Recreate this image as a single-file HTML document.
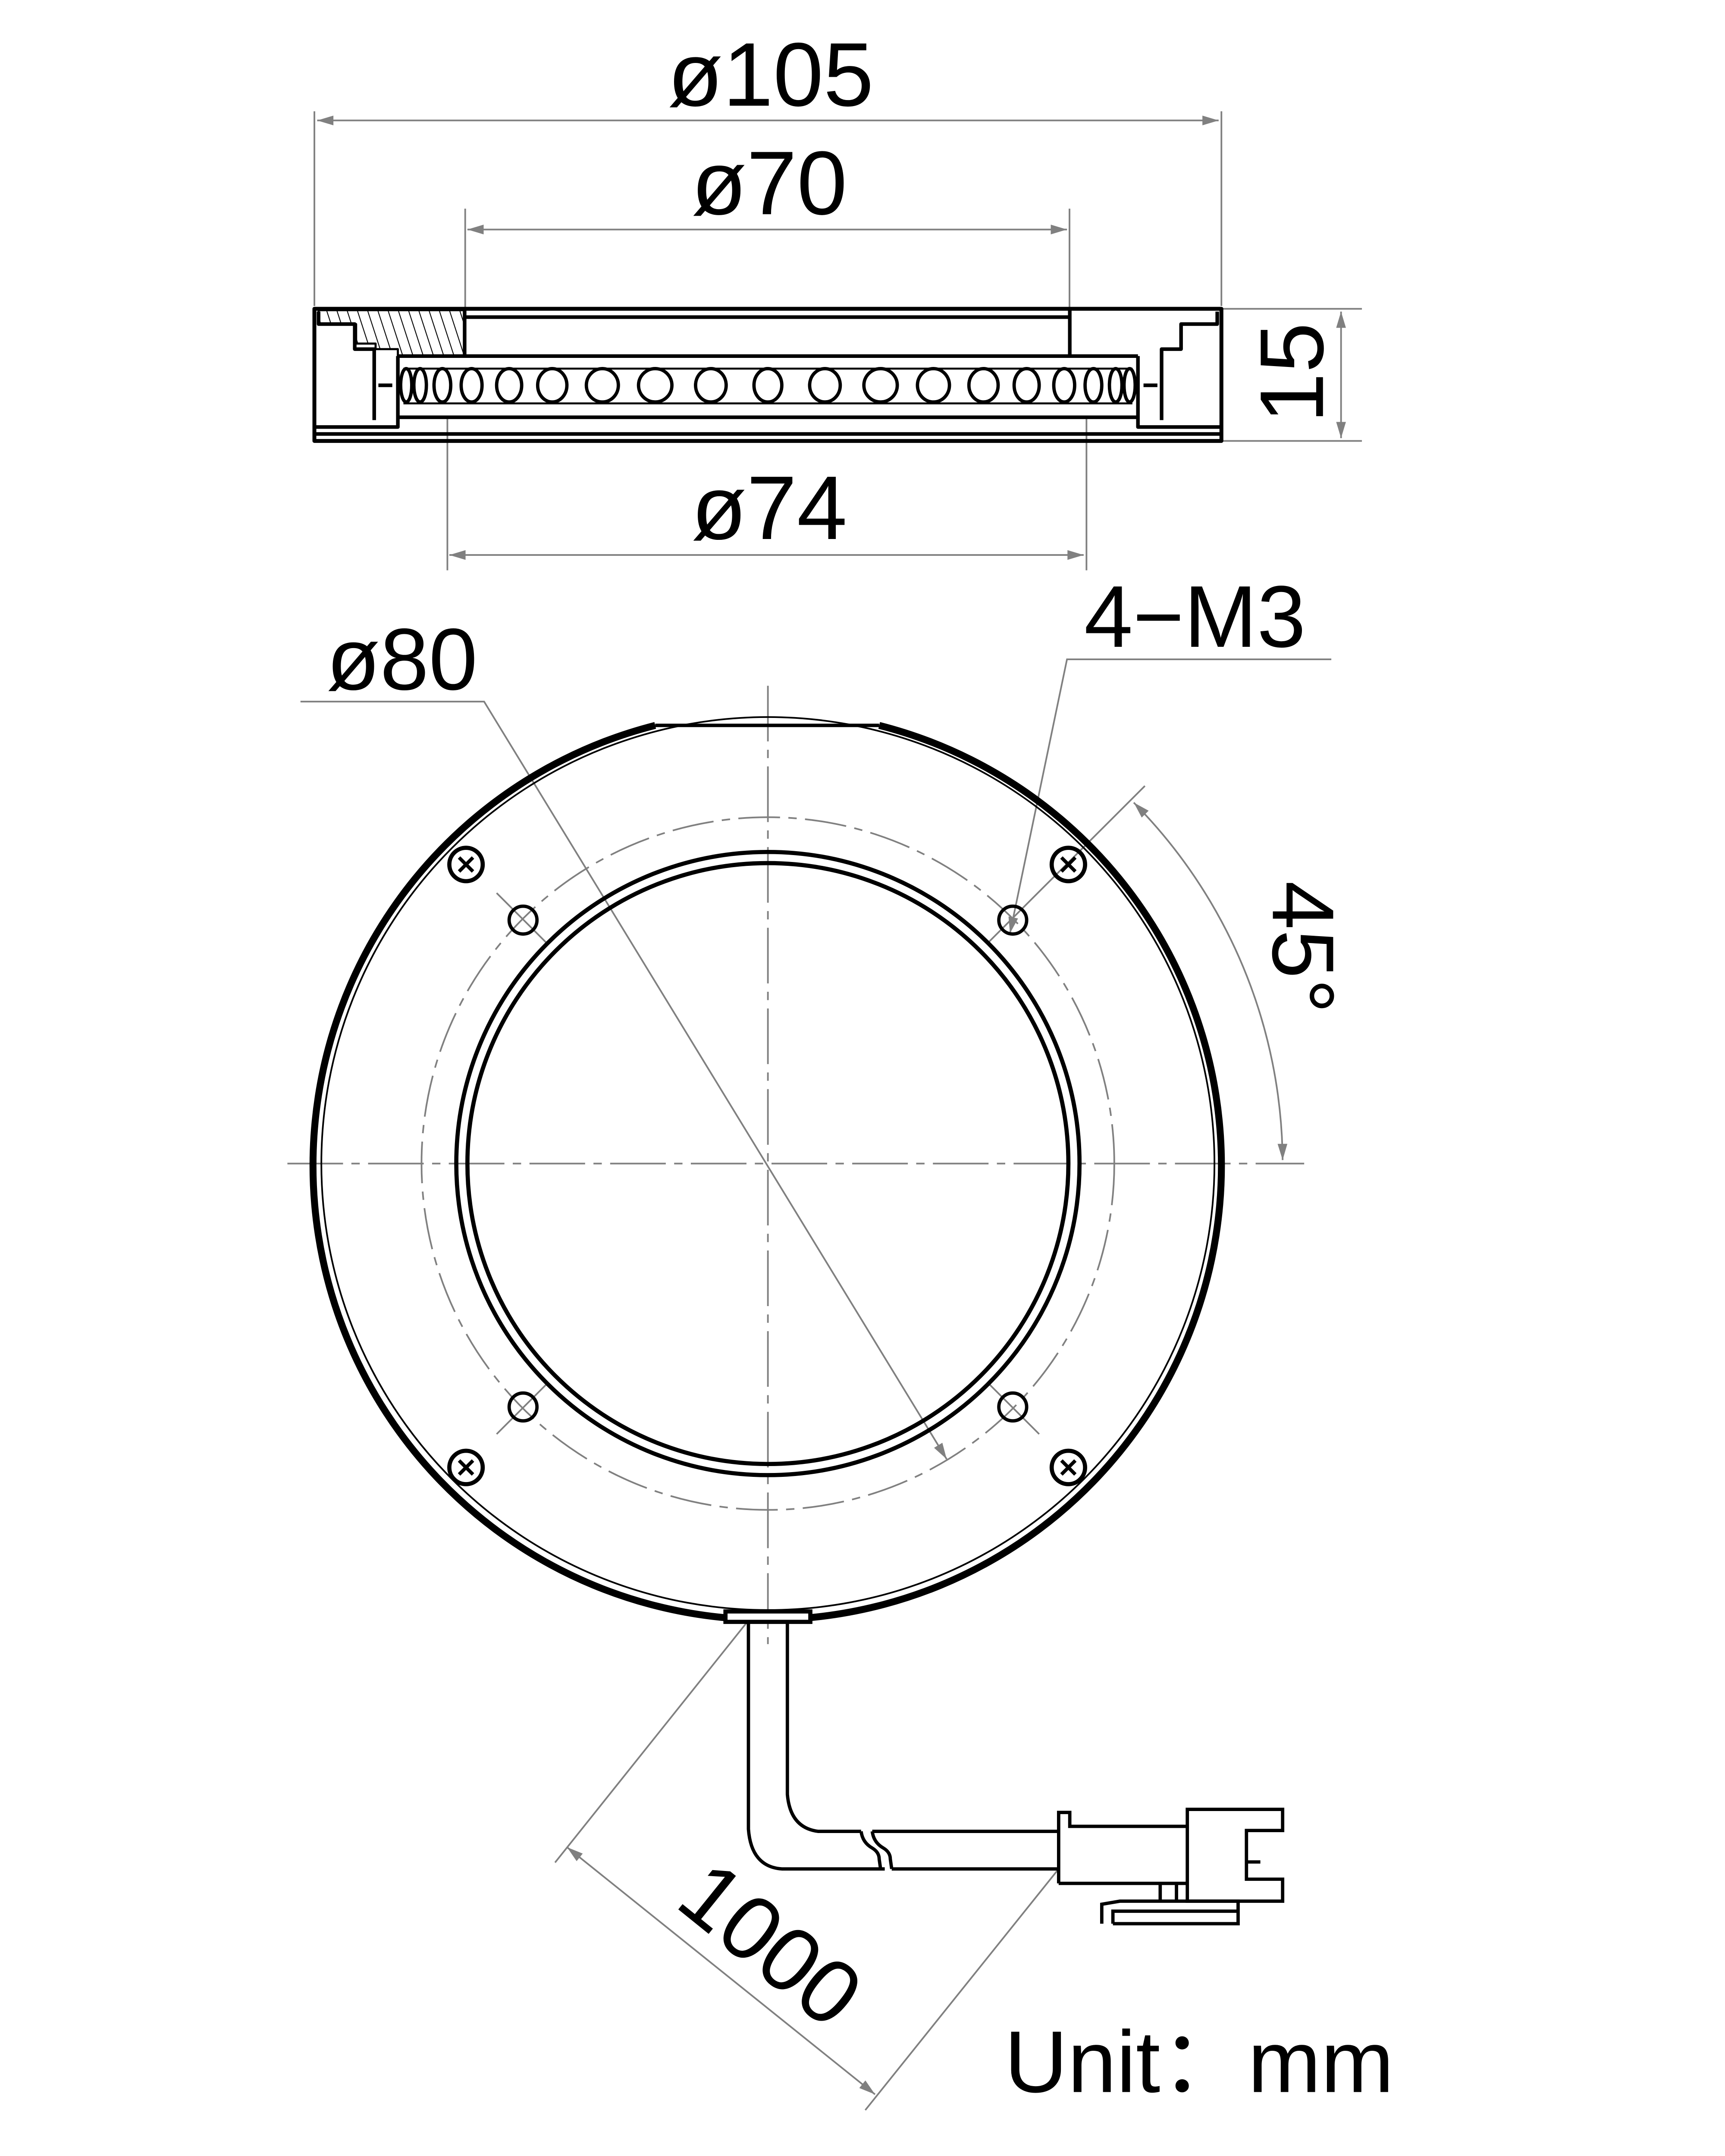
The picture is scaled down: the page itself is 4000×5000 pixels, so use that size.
<!DOCTYPE html>
<html><head><meta charset="utf-8"><style>
html,body{margin:0;padding:0;background:#fff;overflow:hidden}
svg{display:block}
text{font-family:"Liberation Sans","Noto Sans CJK SC",sans-serif;fill:#000}
</style></head><body>
<svg width="4000" height="5000" viewBox="0 0 1240 1550" xmlns="http://www.w3.org/2000/svg">
<defs>
<marker id="a" viewBox="0 0 10 6" refX="10" refY="3" markerWidth="13" markerHeight="7" markerUnits="userSpaceOnUse" orient="auto-start-reverse">
<path d="M0,0 L10,3 L0,6 Z" fill="#808080"/>
</marker>
<pattern id="h" width="7" height="7" patternUnits="userSpaceOnUse" patternTransform="rotate(-18)">
<line x1="0" y1="0" x2="0" y2="7" stroke="#000" stroke-width="1.3"/>
</pattern>
</defs>
<g stroke="#808080" stroke-width="1.2" fill="none">
<!-- dims side view -->
<line x1="226" y1="80" x2="226" y2="220"/><line x1="878" y1="80" x2="878" y2="220"/>
<line x1="228" y1="86.6" x2="876" y2="86.6" marker-start="url(#a)" marker-end="url(#a)"/>
<line x1="334.4" y1="150" x2="334.4" y2="228"/><line x1="768.8" y1="150" x2="768.8" y2="256"/>
<line x1="336" y1="165" x2="767" y2="165" marker-start="url(#a)" marker-end="url(#a)"/>
<line x1="321.6" y1="300" x2="321.6" y2="410"/><line x1="781" y1="300" x2="781" y2="410"/>
<line x1="323" y1="399" x2="779" y2="399" marker-start="url(#a)" marker-end="url(#a)"/>
<line x1="878" y1="222" x2="979" y2="222"/><line x1="878" y1="317" x2="979" y2="317"/>
<line x1="964" y1="224" x2="964" y2="315" marker-start="url(#a)" marker-end="url(#a)"/>
<!-- center lines -->
<line x1="206.6" y1="836.5" x2="937.5" y2="836.5" stroke-dasharray="40 6 6 6"/>
<line x1="552" y1="493" x2="552" y2="1182" stroke-dasharray="40 6 6 6"/>
<circle cx="552" cy="836.5" r="249" stroke-dasharray="30 6 6 6"/>
<!-- 45 deg lines -->
<line x1="357" y1="642" x2="394" y2="679"/>
<line x1="357" y1="1031" x2="394" y2="994"/>
<line x1="710" y1="994" x2="747" y2="1031"/>
<line x1="710" y1="678" x2="823" y2="565"/>
<path d="M815,577 A370,370 0 0 1 922,834" marker-start="url(#a)" marker-end="url(#a)"/>
<!-- leaders -->
<polyline points="216,504.4 348,504.4 680.5,1049" marker-end="url(#a)"/>
<polyline points="957,474 767,474 726,671" marker-end="url(#a)"/>
<!-- 1000 -->
<line x1="538" y1="1165" x2="399" y2="1339"/>
<line x1="761" y1="1343.6" x2="622" y2="1517"/>
<line x1="407.6" y1="1328" x2="629" y2="1505.7" marker-start="url(#a)" marker-end="url(#a)"/>
</g>

<!-- side view body -->
<g stroke="#000" stroke-width="2.6" fill="none" stroke-linejoin="round">
<path d="M229,223 H334 V256 H286 V251 H270 V247 H256 V233 H229 Z" fill="url(#h)" stroke-width="1.5"/>
<path d="M226,222 H878 V317 H226 Z" stroke-width="2.8"/>
<line x1="334" y1="228" x2="769" y2="228"/>
<line x1="334" y1="222" x2="334" y2="256"/><line x1="769" y1="222" x2="769" y2="256"/>
<polyline points="229,224 229,233 255,233 255,251 269,251 269,302"/>
<polyline points="875,224 875,233 849,233 849,251 835,251 835,302"/>
<polyline points="226,307 286,307 286,256"/>
<polyline points="878,307 818,307 818,256"/>
<line x1="286" y1="256" x2="818" y2="256"/>
<line x1="286" y1="300" x2="818" y2="300"/>
<line x1="226" y1="312" x2="878" y2="312"/>
<line x1="272" y1="277" x2="282" y2="277"/><line x1="822" y1="277" x2="832" y2="277"/>
</g>
<g stroke="#000" stroke-width="2.4" fill="none">
<line x1="290" y1="265" x2="814" y2="265" stroke-width="1.4"/>
<line x1="290" y1="290" x2="814" y2="290" stroke-width="1.4"/>
<ellipse cx="292" cy="277" rx="4" ry="12"/><ellipse cx="812" cy="277" rx="4" ry="12"/>
<ellipse cx="302" cy="277" rx="4.5" ry="12"/><ellipse cx="802" cy="277" rx="4.5" ry="12"/>
<ellipse cx="318" cy="277" rx="6" ry="12"/><ellipse cx="786" cy="277" rx="6" ry="12"/>
<ellipse cx="339" cy="277" rx="7.5" ry="12"/><ellipse cx="765" cy="277" rx="7.5" ry="12"/>
<ellipse cx="366" cy="277" rx="9" ry="12"/><ellipse cx="738" cy="277" rx="9" ry="12"/>
<ellipse cx="397" cy="277" rx="10.5" ry="12"/><ellipse cx="707" cy="277" rx="10.5" ry="12"/>
<ellipse cx="433" cy="277" rx="11.5" ry="12"/><ellipse cx="671" cy="277" rx="11.5" ry="12"/>
<ellipse cx="471" cy="277" rx="12" ry="12"/><ellipse cx="633" cy="277" rx="12" ry="12"/>
<ellipse cx="511" cy="277" rx="11" ry="12"/><ellipse cx="593" cy="277" rx="11" ry="12"/>
<ellipse cx="552" cy="277" rx="10" ry="12"/>
</g>

<!-- front view -->
<g stroke="#000" fill="none">
<path d="M471,521.5 A326.5,326.5 0 1 0 632,521.5" stroke-width="5"/>
<line x1="471" y1="521.5" x2="632" y2="521.5" stroke-width="2.5"/>
<circle cx="552" cy="836.5" r="321" stroke-width="1.2"/>
<circle cx="552" cy="836.5" r="224" stroke-width="3"/>
<circle cx="552" cy="836.5" r="216" stroke-width="3"/>
<g stroke-width="2.4">
<circle cx="376" cy="661.5" r="10"/><circle cx="728" cy="661.5" r="10"/>
<circle cx="376" cy="1011.5" r="10"/><circle cx="728" cy="1011.5" r="10"/>
</g>
<g stroke-width="3">
<circle cx="335" cy="621.5" r="12"/><circle cx="768" cy="621.5" r="12"/>
<circle cx="335" cy="1055" r="12"/><circle cx="768" cy="1055" r="12"/>
<path d="M330,616.5 l10,10 m0,-10 l-10,10 M763,616.5 l10,10 m0,-10 l-10,10 M330,1050 l10,10 m0,-10 l-10,10 M763,1050 l10,10 m0,-10 l-10,10" stroke-width="2.5"/>
</g>
<!-- cable -->
<g stroke-width="2.4">
<rect x="521.5" y="1158.5" width="61" height="7.5" fill="#fff" stroke-width="3"/>
<path d="M538,1166 V1315 Q540,1342 562,1343.6 H636"/>
<path d="M566,1166 V1290 Q568,1314 588,1316.6 H619"/>
<path d="M619,1316.6 q1,8 8,12 q5,3 5,8 l1,7"/>
<path d="M627,1316.6 q1,8 8,12 q5,3 5,8 l1,7 M627,1316.6 H761 M641,1343.6 H761"/>
<path d="M761,1354 V1303 H769 V1313 H853.5 M761,1354 H853.5"/>
<path d="M853.5,1300.8 H922 V1316 H896 V1351 H922 V1366.8 H853.5 Z"/>
<line x1="896" y1="1338.6" x2="906" y2="1338.6"/>
<path d="M834,1354 V1366.8 M845.7,1354 V1366.8 M792,1383 V1369 L805,1366.8 H890 V1383 H800 M800,1383 V1374 H890"/>
</g>
</g>

<!-- texts -->
<text x="554" y="76" font-size="65" text-anchor="middle">ø105</text>
<text x="553" y="154" font-size="65" text-anchor="middle">ø70</text>
<text x="553" y="387.5" font-size="65" text-anchor="middle">ø74</text>
<text x="289" y="495.7" font-size="63" text-anchor="middle">ø80</text>
<text x="859" y="465" font-size="63" text-anchor="middle">4−M3</text>
<text transform="translate(951,268) rotate(-90)" font-size="65" text-anchor="middle">15</text>
<text transform="translate(915,681) rotate(90)" font-size="63" text-anchor="middle">45°</text>
<text transform="translate(540,1415) rotate(38.9)" font-size="65" text-anchor="middle">1000</text>
<text x="722" y="1504" font-size="63">Unit：mm</text>
</svg>
</body></html>
